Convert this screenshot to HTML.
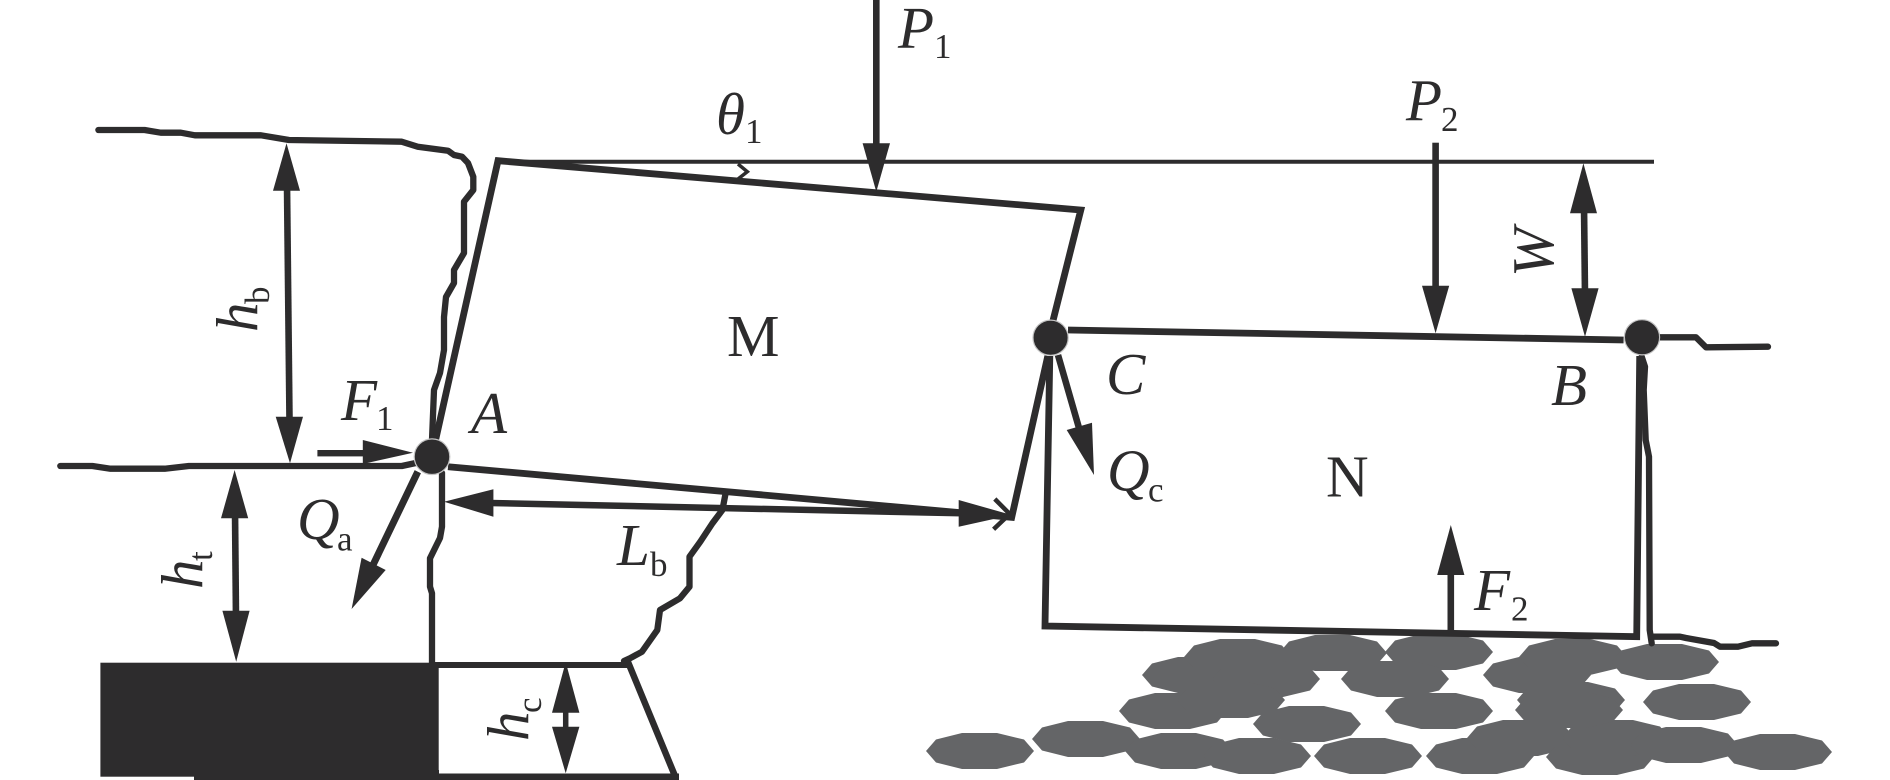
<!DOCTYPE html>
<html><head><meta charset="utf-8"><style>
html,body{margin:0;padding:0;background:#fff;width:1890px;height:780px;overflow:hidden}
svg{display:block}
text{font-family:"Liberation Serif",serif;fill:#2d2c2d}
.b{font-size:59px;font-style:italic}
.r{font-size:59px}
.s{font-size:35px}
.l{fill:none;stroke:#2d2c2d;stroke-width:6.8;stroke-linejoin:miter}
.g{fill:none;stroke:#2d2c2d;stroke-width:6.3;stroke-linecap:round;stroke-linejoin:round}
.h{fill:#2d2c2d;stroke:none}
.c{fill:#2d2c2d;stroke:#c4c4c4;stroke-width:1.2}
.k{fill:#646567}
</style></head><body>
<svg width="1890" height="780" viewBox="0 0 1890 780" xmlns="http://www.w3.org/2000/svg">
<defs><polygon id="rk" points="-54,0 -44,-11.5 -18,-18 17,-18 44,-11.5 54,0 44,11.5 17,18 -18,18 -44,11.5"/></defs>
<g class="k">
<use href="#rk" x="980" y="751"/><use href="#rk" x="1086" y="739"/><use href="#rk" x="1179" y="751"/>
<use href="#rk" x="1173" y="711"/><use href="#rk" x="1196" y="675"/><use href="#rk" x="1238" y="657"/>
<use href="#rk" x="1266" y="679"/><use href="#rk" x="1231" y="700"/><use href="#rk" x="1257" y="756"/>
<use href="#rk" x="1333" y="653"/><use href="#rk" x="1439" y="652"/><use href="#rk" x="1395" y="679"/>
<use href="#rk" x="1307" y="724"/><use href="#rk" x="1439" y="711"/><use href="#rk" x="1368" y="756"/>
<use href="#rk" x="1480" y="756"/><use href="#rk" x="1521" y="738"/><use href="#rk" x="1600" y="757"/>
<use href="#rk" x="1616" y="738"/><use href="#rk" x="1537" y="675"/><use href="#rk" x="1573" y="657"/>
<use href="#rk" x="1571" y="700"/><use href="#rk" x="1569" y="710"/><use href="#rk" x="1665" y="662"/>
<use href="#rk" x="1697" y="702"/><use href="#rk" x="1684" y="745"/><use href="#rk" x="1778" y="752"/>
</g>
<!-- ground lines -->
<polyline class="g" points="98.4,130 144.6,130 160.7,132.7 180.8,132.7 194.9,135.3 261,135.3 289,140 401.8,141.7 417.8,146.7 448,150.7 454,155 462,156.7 468,163 473.3,176.7 473.3,190 464,201.7 464,253 454,270 454,283 446,297 444,317 444,350 440,373 434,390 432,440"/>
<polyline class="g" points="60.3,466 92.4,466 110.5,468.7 164.7,468.7 188.8,466 401.8,466 415.8,463"/>
<polyline class="g" points="442,473 442,526.7 440,538 430,558.3 430,586.7 432,593.3 432,663"/>
<polyline class="g" points="725.6,493.3 722.4,510 712.4,523.3 700.3,541.7 689.5,556.7 689.5,586.7 680,598.3 660,610 657.3,630 642,651.7 630,658.3 624,661"/>
<polyline class="g" points="1659.8,337.3 1696,337.3 1706,347.3 1768,346.7"/>
<polyline class="g" points="1641.7,356.7 1645,366.7 1643.7,390 1645.7,440 1649,456.7 1649.7,630 1651.7,643.3"/>
<polyline class="g" points="1651.7,636.7 1680,636.7 1686,638 1714,643 1720,646.7 1738,646.7 1752,643.3 1776,643.3"/>
<!-- datum -->
<line x1="496" y1="161.7" x2="1654" y2="161.7" stroke="#2d2c2d" stroke-width="4"/>
<!-- block M -->
<polyline class="l" points="432,456 498,160.7 1080.8,210 1051.9,325"/>
<polyline class="l" points="448,466.7 1011.7,517.3 1047.8,356"/>
<!-- block N -->
<polyline class="l" points="1068,330 1623.6,340"/>
<polyline class="l" points="1049.8,356 1045,626 1636.7,636.7 1639.7,356"/>
<!-- angle mark -->
<polyline points="738,164 747.3,171.7 738,179" fill="none" stroke="#2d2c2d" stroke-width="3.5"/>
<!-- block base -->
<rect x="100.4" y="662.7" width="338.3" height="114" class="h"/>
<rect x="194" y="770" width="245" height="10" class="h"/>
<line x1="432" y1="665" x2="630" y2="665" stroke="#2d2c2d" stroke-width="6"/>
<line x1="439" y1="776.7" x2="679" y2="776.7" stroke="#2d2c2d" stroke-width="6.5"/>
<line x1="628" y1="662" x2="675" y2="776" stroke="#2d2c2d" stroke-width="6.5"/>
<!-- arrows -->
<rect x="873" y="0" width="6.6" height="150" class="h"/>
<polygon class="h" points="862.6,143.3 890,143.3 876.3,191.7"/>
<rect x="1432.3" y="142.7" width="6.6" height="150" class="h"/>
<polygon class="h" points="1422,285.7 1449.2,285.7 1435.6,333.3"/>
<line x1="1584" y1="205" x2="1585" y2="295" stroke="#2d2c2d" stroke-width="6.6"/>
<polygon class="h" points="1583.4,163.3 1570,213.3 1597,213.3"/>
<polygon class="h" points="1571.4,288.3 1598.6,288.3 1585,336.7"/>
<line x1="1450.8" y1="570" x2="1450.8" y2="632" stroke="#2d2c2d" stroke-width="6.6"/>
<polygon class="h" points="1450.8,525 1437.2,575 1464.4,575"/>
<line x1="1058" y1="355" x2="1079" y2="428" stroke="#2d2c2d" stroke-width="6.6"/>
<polygon class="h" points="1094,475 1066.7,430 1092,422.7"/>
<polyline points="994.8,499 1009.7,514 993.6,529.3" fill="none" stroke="#2d2c2d" stroke-width="4.5"/>
<line x1="490" y1="503" x2="962" y2="513.3" stroke="#2d2c2d" stroke-width="6.5"/>
<polygon class="h" points="444,501.7 493.4,489.3 493.4,516.7"/>
<polygon class="h" points="958.7,500 958.7,526.7 1011.7,515"/>
<line x1="287" y1="185" x2="289.5" y2="420" stroke="#2d2c2d" stroke-width="6.6"/>
<polygon class="h" points="286.5,143.3 273,190.7 300,190.7"/>
<polygon class="h" points="275.7,416.7 303,416.7 290,463.3"/>
<rect x="317.4" y="450" width="50" height="6.4" class="h"/>
<polygon class="h" points="362.8,440 362.8,464 413,452.7"/>
<line x1="417.8" y1="471.7" x2="373" y2="565" stroke="#2d2c2d" stroke-width="7"/>
<polygon class="h" points="361.6,557.7 385.7,570 351.6,609"/>
<line x1="235" y1="510" x2="236" y2="620" stroke="#2d2c2d" stroke-width="6.6"/>
<polygon class="h" points="234.6,470 221,518.3 248.2,518.3"/>
<polygon class="h" points="222.4,610.7 249.6,610.7 236.2,661.7"/>
<line x1="565.7" y1="705" x2="565.7" y2="735" stroke="#2d2c2d" stroke-width="5.5"/>
<polygon class="h" points="565.7,662 552,712.7 579.4,712.7"/>
<polygon class="h" points="552,726.7 579.4,726.7 565.7,773.3"/>
<!-- pins -->
<circle class="c" cx="432" cy="456.7" r="17.8"/>
<circle class="c" cx="1050.6" cy="337.7" r="17.6"/>
<circle class="c" cx="1642" cy="337.3" r="17.6"/>
<!-- labels -->
<text class="b" x="898" y="48">P</text><text class="s" x="934" y="58">1</text>
<text class="b" x="1406" y="120.7">P</text><text class="s" x="1441" y="131">2</text>
<text class="b" x="716" y="134">θ</text><text class="s" x="745" y="143">1</text>
<text class="r" x="727" y="356">M</text>
<text class="r" x="1326" y="496.7">N</text>
<text class="b" x="471" y="433">A</text>
<text class="b" x="1106" y="394">C</text>
<text class="b" x="1551" y="405">B</text>
<text class="b" x="297" y="539">Q</text><text class="s" x="337" y="550.7">a</text>
<text class="b" x="1107" y="490.7">Q</text><text class="s" x="1148" y="501.7">c</text>
<text class="b" x="341" y="420">F</text><text class="s" x="376" y="430">1</text>
<text class="b" x="1474" y="610">F</text><text class="s" x="1511" y="620.7">2</text>
<text class="b" x="617" y="565">L</text><text class="s" x="650" y="576">b</text>
<text class="b" transform="translate(257,332) rotate(-90)">h</text>
<text class="s" transform="translate(269,304) rotate(-90)">b</text>
<text class="b" transform="translate(202,589) rotate(-90)">h</text>
<text class="s" transform="translate(212,561) rotate(-90)">t</text>
<text class="b" transform="translate(528,741) rotate(-90)">h</text>
<text class="s" transform="translate(541,713) rotate(-90)">c</text>
<text class="b" transform="translate(1553,277) rotate(-90)">W</text>
</svg>
</body></html>
